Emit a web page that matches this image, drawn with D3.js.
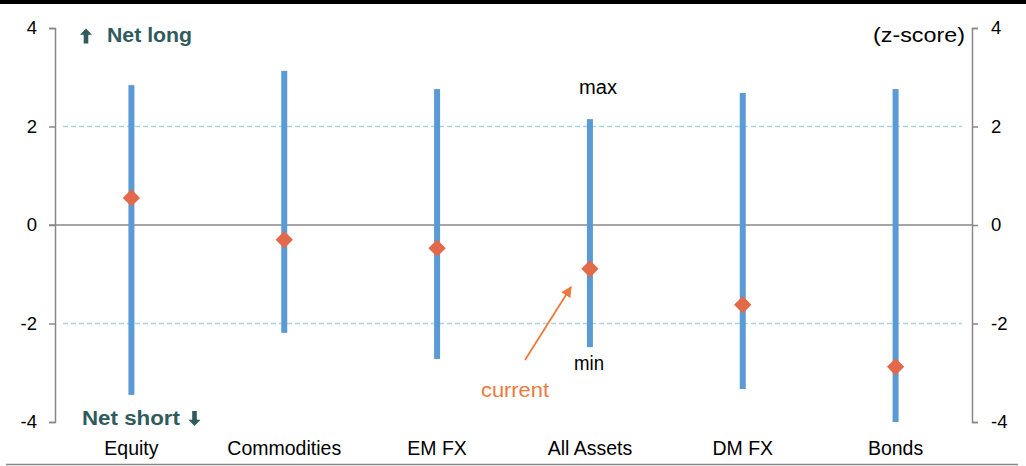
<!DOCTYPE html>
<html>
<head>
<meta charset="utf-8">
<script src="https://cdn.jsdelivr.net/npm/d3@7"></script>
<style>
  body { margin: 0; background: #fff; }
  svg { display: block; font-family: "Liberation Sans", Arial, sans-serif; }
</style>
</head>
<body>
<div id="chart"></div>
<script>
var categories = ['Equity', 'Commodities', 'EM FX', 'All Assets', 'DM FX', 'Bonds'];
var maxValues = [2.84, 3.13, 2.76, 2.15, 2.68, 2.76];
var minValues = [-3.45, -2.19, -2.72, -2.48, -3.33, -4.0];
var currentValues = [0.55, -0.30, -0.47, -0.89, -1.62, -2.88];
var yTicks = [-4, -2, 0, 2, 4];
var bandLines = [-2, 2];

var width = 1026, height = 466;
var plot = {left: 55, right: 972, top: 28, bottom: 422};

var svg = d3.select('#chart').append('svg')
    .attr('width', width)
    .attr('height', height);

// top black strip and bottom rule
svg.append('rect').attr('x', 0).attr('y', 0).attr('width', width).attr('height', 4).attr('fill', '#000');
svg.append('line').attr('x1', 6).attr('x2', 1018).attr('y1', 464.5).attr('y2', 464.5)
    .attr('stroke', '#888').attr('stroke-width', 1.5);

var x = d3.scaleBand().domain(categories).range([plot.left, plot.right]);
var y = d3.scaleLinear().domain([-4, 4]).range([plot.bottom, plot.top]);

// dashed +/-2 lines
svg.selectAll('line.band')
    .data(bandLines)
    .enter()
    .append('line')
    .attr('class', 'band')
    .attr('x1', plot.left + 8).attr('x2', plot.right - 10)
    .attr('y1', function (d) { return y(d); })
    .attr('y2', function (d) { return y(d); })
    .attr('stroke', '#a6d5de')
    .attr('stroke-width', 1.3)
    .attr('stroke-dasharray', '5,3');

// axes (plain hyphen minus like the original)
var fmt = function (d) { return String(d); };
var leftAxis = d3.axisLeft(y).tickValues(yTicks).tickSize(6).tickPadding(12).tickFormat(fmt);
var rightAxis = d3.axisRight(y).tickValues(yTicks).tickSize(6).tickPadding(13).tickFormat(fmt);

var gl = svg.append('g').attr('transform', 'translate(' + plot.left + ',0)').call(leftAxis);
var gr = svg.append('g').attr('transform', 'translate(' + plot.right + ',0)').call(rightAxis);
[gl, gr].forEach(function (g) {
    g.select('.domain').attr('stroke', '#888').attr('stroke-width', 1.5);
    g.selectAll('.tick line').attr('stroke', '#888').attr('stroke-width', 1.5);
    g.selectAll('.tick text').attr('fill', '#000').attr('font-size', 18.5)
        .attr('font-family', '"Liberation Sans", Arial, sans-serif');
});

// zero line
svg.append('line')
    .attr('x1', plot.left - 6).attr('x2', plot.right)
    .attr('y1', y(0)).attr('y2', y(0))
    .attr('stroke', '#888').attr('stroke-width', 1.5);

// min-max bars
svg.selectAll('rect.range')
    .data(categories)
    .enter()
    .append('rect')
    .attr('class', 'range')
    .attr('x', function (d) { return x(d) + x.bandwidth() / 2 - 3; })
    .attr('width', 6)
    .attr('y', function (d, i) { return y(maxValues[i]); })
    .attr('height', function (d, i) { return y(minValues[i]) - y(maxValues[i]); })
    .attr('fill', '#5b9bd5');

// current diamonds
svg.selectAll('path.current')
    .data(categories)
    .enter()
    .append('path')
    .attr('class', 'current')
    .attr('d', d3.symbol().type(d3.symbolSquare).size(150))
    .attr('transform', function (d, i) {
        return 'translate(' + (x(d) + x.bandwidth() / 2) + ',' + y(currentValues[i]) + ') rotate(45)';
    })
    .attr('fill', '#e2694a');

// category labels
svg.selectAll('text.cat')
    .data(categories)
    .enter()
    .append('text')
    .attr('class', 'cat')
    .attr('x', function (d) { return x(d) + x.bandwidth() / 2; })
    .attr('y', 455)
    .attr('text-anchor', 'middle')
    .attr('font-size', 19.5)
    .text(function (d) { return d; });

// helper for stretched annotation text
function label(txt, px, py, size, len, opts) {
    opts = opts || {};
    return svg.append('text')
        .attr('x', px).attr('y', py)
        .attr('font-size', size)
        .attr('font-weight', opts.bold ? 'bold' : 'normal')
        .attr('fill', opts.fill || '#000')
        .attr('textLength', len)
        .attr('lengthAdjust', 'spacingAndGlyphs')
        .text(txt);
}

// annotations
label('max', 579, 94, 20, 38);
label('min', 574, 370, 20, 30);
label('current', 481, 397, 20, 68, {fill: '#ec7a3c'});

svg.append('defs').append('marker')
    .attr('id', 'head')
    .attr('viewBox', '0 0 10 10')
    .attr('refX', 9).attr('refY', 5)
    .attr('markerWidth', 6).attr('markerHeight', 6)
    .attr('orient', 'auto')
    .append('path').attr('d', 'M0,0L10,5L0,10z').attr('fill', '#ec7a3c');
svg.append('line')
    .attr('x1', 525).attr('y1', 360).attr('x2', 571).attr('y2', 287)
    .attr('stroke', '#ec7a3c').attr('stroke-width', 1.8)
    .attr('marker-end', 'url(#head)');

// Net long / Net short with bold block arrows
var teal = '#2f5b5d';
var arrowShape = 'M0,-7.5L6,-1.2L2.3,-1.2L2.3,7.5L-2.3,7.5L-2.3,-1.2L-6,-1.2Z';
svg.append('path').attr('d', arrowShape).attr('fill', teal)
    .attr('transform', 'translate(86,36)');
label('Net long', 107, 42, 21, 85, {bold: true, fill: teal});
label('Net short', 82, 425, 20, 98, {bold: true, fill: teal});
svg.append('path').attr('d', arrowShape).attr('fill', teal)
    .attr('transform', 'translate(194.5,418.5) rotate(180)');

label('(z-score)', 873, 42, 20, 92);
</script>
</body>
</html>
